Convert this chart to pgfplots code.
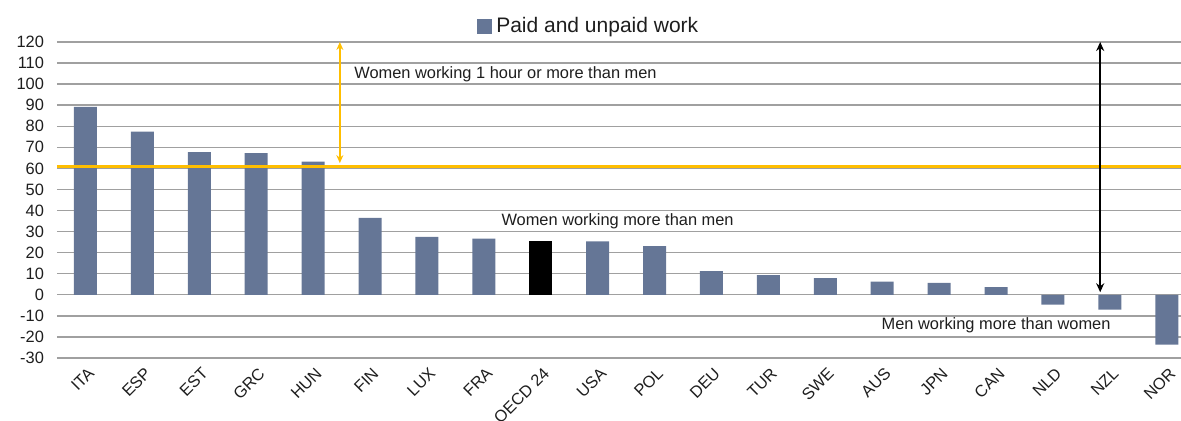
\documentclass[border=0pt]{standalone}
\usepackage{pgfplots}
\pgfplotsset{compat=1.18}
\usetikzlibrary{arrows.meta}
\usepackage{fontspec}
\setmainfont{Liberation Sans}
\definecolor{barblue}{RGB}{101,118,150}
\definecolor{gold}{RGB}{255,190,0}
\definecolor{gridgray}{RGB}{160,160,160}
\definecolor{txt}{RGB}{30,30,30}
\begin{document}
\begin{tikzpicture}
\useasboundingbox (-28.5pt,-31.5pt) rectangle (562pt,179pt);
\begin{axis}[at={(0,0)}, anchor=south west, scale only axis, width=562pt, height=158pt,
  ybar, bar width=11.5pt,
  xmin=-0.5, xmax=19.25, ymin=-30, ymax=120,
  ytick={-30,-20,...,120},
  xtick={0,...,19},
  xticklabels={ITA,ESP,EST,GRC,HUN,FIN,LUX,FRA,OECD 24,USA,POL,DEU,TUR,SWE,AUS,JPN,CAN,NLD,NZL,NOR},
  axis line style={draw=none},
  major tick length=0pt,
  ymajorgrids, grid style={gridgray, line width=0.7pt},
  /pgf/number format/assume math mode=true,
  tick label style={font=\fontsize{8.2}{9}\selectfont, text=txt},
  x tick label style={rotate=45, anchor=east, yshift=-6.5pt, xshift=1pt},
  y tick label style={xshift=-3pt},
  legend style={at={(0.474,1.0)}, anchor=south, yshift=-1pt, draw=none, fill=none, font=\fontsize{10.5}{12}\selectfont, text=txt},
  legend image code/.code={\fill[barblue] (0pt,-3.7pt) rectangle (7.5pt,3.7pt);},
]
\addplot[fill=barblue, draw=none, bar shift=0pt] coordinates {
(0,89.2) (1,77.5) (2,67.7) (3,67.2) (4,63.2) (5,36.5) (6,27.5) (7,26.7)
(9,25.3) (10,23.1) (11,11.2) (12,9.3) (13,7.9) (14,6.2) (15,5.7) (16,3.6)
(17,-4.7) (18,-7.0) (19,-23.7)};
\addlegendentry{Paid and unpaid work}
\addplot[fill=black, draw=none, bar shift=0pt, forget plot] coordinates {(8,25.5)};
\draw[gold, line width=1.6pt] (axis cs:-0.5,60.8) -- (axis cs:19.25,60.8);
\draw[gold, line width=1pt, {Stealth[length=4pt,width=3.5pt]}-{Stealth[length=4pt,width=3.5pt]}] (axis cs:4.47,120) -- (axis cs:4.47,62.5);
\draw[black, line width=1.1pt, {Stealth[length=4.5pt,width=4pt]}-{Stealth[length=4.5pt,width=4pt]}] (axis cs:17.83,120) -- (axis cs:17.83,1.2);
\node[anchor=west, text=txt, font=\fontsize{8.2}{9}\selectfont] at (axis cs:4.6,104.5) {Women working 1 hour or more than men};
\node[text=txt, font=\fontsize{8.2}{9}\selectfont] at (axis cs:9.35,34.8) {Women working more than men};
\node[text=txt, font=\fontsize{8.2}{9}\selectfont] at (axis cs:16.0,-14.5) {Men working more than women};
\end{axis}
\end{tikzpicture}
\end{document}
